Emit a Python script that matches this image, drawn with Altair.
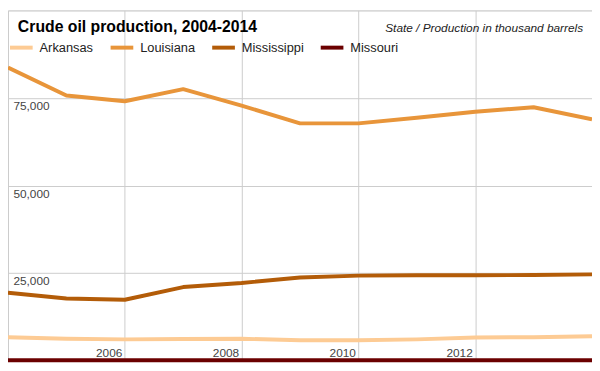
import altair as alt
import pandas as pd

years = [2004, 2005, 2006, 2007, 2008, 2009, 2010, 2011, 2012, 2013, 2014]
states = ["Arkansas", "Louisiana", "Mississippi", "Missouri"]
arkansas = [6680, 6250, 6060, 6150, 6250, 5790, 5790, 6060, 6600, 6680, 6960]
louisiana = [83700, 75700, 74070, 77520, 72820, 67740, 67740, 69370, 71080, 72350, 68900]
mississippi = [19370, 17740, 17390, 21000, 22170, 23720, 24260, 24350, 24350, 24450, 24620]
missouri = [100, 100, 100, 100, 100, 100, 100, 100, 100, 100, 100]
colors = ["#fdcb94", "#e8953a", "#b35c08", "#6b0000"]

title_text = "Crude oil production, 2004-2014"
subtitle_text = "State / Production in thousand barrels"
y_ticks = [0, 25000, 50000, 75000, 100000]
x_ticks = [2004, 2006, 2008, 2010, 2012, 2014]

rows = []
for name, vals in zip(states, [arkansas, louisiana, mississippi, missouri]):
    for yr, v in zip(years, vals):
        rows.append({"year": yr, "state": name, "value": v})
df = pd.DataFrame(rows)

W, H = 592, 355
FONT = "Liberation Sans"

lines = alt.Chart(df).mark_line(strokeWidth=4, strokeCap="butt", strokeJoin="round").encode(
    x=alt.X("year:Q", title=None,
            scale=alt.Scale(domain=[2004, 2014], nice=False, zero=False),
            axis=alt.Axis(values=x_ticks, format="d", grid=True, gridColor="#cccccc",
                          domain=False, ticks=False, tickSize=0,
                          labelExpr="datum.value == 2004 || datum.value == 2014 ? '' : datum.label",
                          labelAlign="right", labelBaseline="alphabetic", labelPadding=-4,
                          labelOffset=-3, labelFontSize=12, labelColor="#444444",
                          labelFont=FONT, labelFlush=False, labelOverlap=False, labelBound=False)),
    y=alt.Y("value:Q", title=None,
            scale=alt.Scale(domain=[0, 100000], nice=False),
            axis=alt.Axis(values=y_ticks, format=",d", grid=True, gridColor="#cccccc",
                          domain=False, ticks=False, tickSize=0,
                          labelExpr="datum.value == 0 || datum.value == 100000 ? '' : datum.label",
                          labelAlign="left", labelBaseline="top", labelPadding=-5,
                          labelOffset=3, labelFontSize=12, labelColor="#444444",
                          labelFont=FONT, labelFlush=False, labelOverlap=False, labelBound=False)),
    color=alt.Color("state:N", title=None,
                    scale=alt.Scale(domain=states, range=colors),
                    legend=alt.Legend(orient="none", legendX=0, legendY=24, direction="horizontal",
                                      symbolType="stroke", symbolStrokeWidth=4, symbolSize=529,
                                      labelFontSize=13, labelColor="#222222", labelFont=FONT,
                                      labelOffset=5, columnPadding=9, padding=0)),
)

title = alt.Chart(pd.DataFrame({"t": [title_text]})).mark_text(
    align="left", baseline="alphabetic", fontSize=16, fontWeight="bold", font=FONT, color="#000000"
).encode(text="t:N", x=alt.value(10), y=alt.value(22))

subtitle = alt.Chart(pd.DataFrame({"t": [subtitle_text]})).mark_text(
    align="right", baseline="alphabetic", fontSize=12, fontStyle="italic", font=FONT, color="#222222"
).encode(text="t:N", x=alt.value(583), y=alt.value(22))

chart = alt.layer(lines, title, subtitle).properties(
    width=W, height=H, padding=0, autosize=alt.AutoSizeParams(type="none")
).configure_view(stroke=None).configure(background="white")

chart.save("out.html", embed_options={"renderer": "svg", "actions": False})
